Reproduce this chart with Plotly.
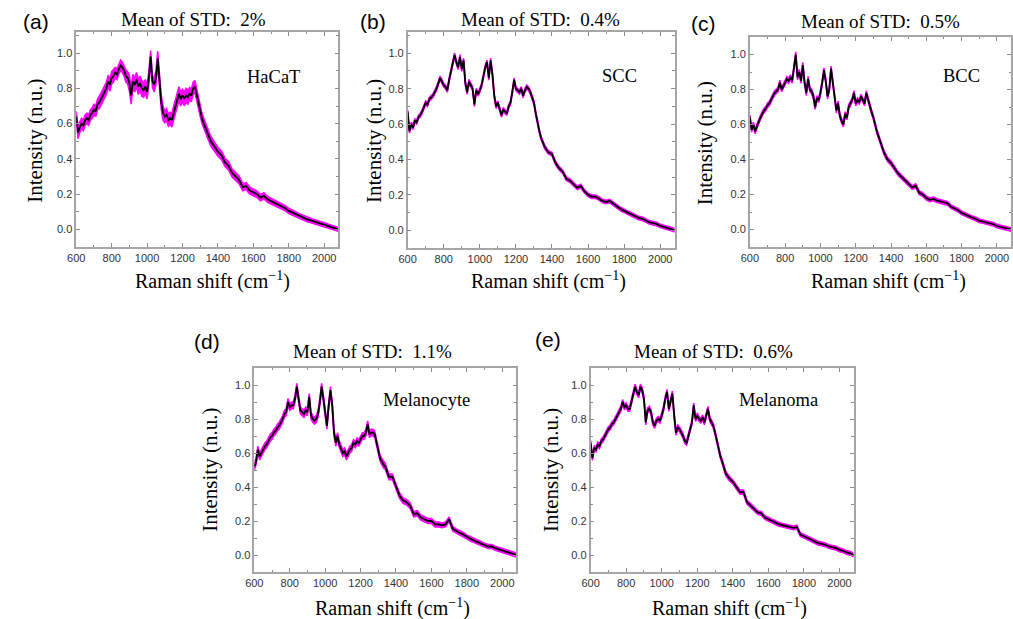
import plotly.graph_objects as go

W, H = 1013, 619

# Raman shift sampling (cm^-1): fine steps through the fingerprint region, coarser in the tail
WAVENUMBER = list(range(600, 1340, 10)) + list(range(1340, 2081, 20))

CELL_NAMES = ["HaCaT", "SCC", "BCC", "Melanocyte", "Melanoma"]
PANEL_TAGS = ["(a)", "(b)", "(c)", "(d)", "(e)"]
MEAN_STD_TEXT = ["2%", "0.4%", "0.5%", "1.1%", "0.6%"]

# Mean normalised spectra
HACAT_MEAN = [
    0.64, 0.55, 0.58, 0.60, 0.59, 0.62, 0.63, 0.62, 0.65, 0.66,
    0.68, 0.67, 0.71, 0.72, 0.74, 0.76, 0.78, 0.80, 0.84, 0.82,
    0.86, 0.87, 0.89, 0.88, 0.91, 0.93, 0.92, 0.90, 0.87, 0.86,
    0.83, 0.76, 0.84, 0.82, 0.85, 0.81, 0.83, 0.80, 0.79, 0.81,
    0.78, 0.86, 0.98, 0.84, 0.82, 0.86, 0.97, 0.84, 0.72, 0.66,
    0.64, 0.65, 0.62, 0.63, 0.62, 0.66, 0.70, 0.73, 0.77, 0.74,
    0.76, 0.74, 0.76, 0.75, 0.77, 0.76, 0.80, 0.81, 0.76, 0.71,
    0.67, 0.63, 0.60, 0.57,
    0.55, 0.50, 0.47, 0.44, 0.42, 0.38, 0.36, 0.32, 0.30, 0.28,
    0.24, 0.245, 0.22, 0.21, 0.20, 0.18, 0.19, 0.17, 0.16, 0.15,
    0.14, 0.13, 0.12, 0.105, 0.095, 0.085, 0.075, 0.068, 0.058, 0.052,
    0.045, 0.04, 0.033, 0.026, 0.02, 0.013, 0.007, 0.0,
]
SCC_MEAN = [
    0.67, 0.56, 0.60, 0.58, 0.62, 0.61, 0.64, 0.65, 0.67, 0.70,
    0.72, 0.71, 0.74, 0.75, 0.76, 0.78, 0.80, 0.83, 0.86, 0.84,
    0.82, 0.81, 0.79, 0.85, 0.90, 0.93, 0.99, 0.95, 0.92, 0.98,
    0.91, 0.96, 0.83, 0.78, 0.84, 0.82, 0.80, 0.71, 0.79, 0.77,
    0.79, 0.82, 0.88, 0.92, 0.95, 0.86, 0.96, 0.88, 0.76, 0.70,
    0.72, 0.68, 0.65, 0.68, 0.67, 0.66, 0.70, 0.72, 0.78, 0.85,
    0.80, 0.79, 0.78, 0.80, 0.76, 0.79, 0.81, 0.80, 0.78, 0.75,
    0.72, 0.66, 0.60, 0.56,
    0.52, 0.47, 0.44, 0.43, 0.38, 0.35, 0.33, 0.29, 0.28, 0.26,
    0.24, 0.25, 0.22, 0.20, 0.19, 0.19, 0.18, 0.165, 0.16, 0.165,
    0.15, 0.13, 0.12, 0.11, 0.10, 0.09, 0.08, 0.07, 0.065, 0.055,
    0.045, 0.04, 0.035, 0.025, 0.02, 0.012, 0.007, 0.0,
]
BCC_MEAN = [
    0.64, 0.57, 0.60, 0.56, 0.59, 0.62, 0.64, 0.66, 0.68, 0.69,
    0.71, 0.72, 0.74, 0.76, 0.78, 0.79, 0.80, 0.84, 0.80, 0.82,
    0.84, 0.86, 0.85, 0.87, 0.85, 0.92, 1.00, 0.87, 0.90, 0.85,
    0.94, 0.84, 0.78, 0.86, 0.80, 0.79, 0.76, 0.70, 0.75, 0.74,
    0.78, 0.84, 0.91, 0.85, 0.76, 0.80, 0.92, 0.84, 0.74, 0.68,
    0.72, 0.65, 0.62, 0.60, 0.66, 0.64, 0.70, 0.72, 0.74, 0.78,
    0.72, 0.74, 0.73, 0.76, 0.74, 0.72, 0.78, 0.74, 0.71, 0.67,
    0.64, 0.59, 0.56, 0.53,
    0.50, 0.44, 0.40, 0.38, 0.35, 0.32, 0.30, 0.28, 0.26, 0.24,
    0.25, 0.21, 0.20, 0.18, 0.17, 0.175, 0.165, 0.16, 0.155, 0.15,
    0.13, 0.12, 0.11, 0.095, 0.085, 0.075, 0.068, 0.06, 0.05, 0.045,
    0.04, 0.035, 0.03, 0.02, 0.015, 0.01, 0.005, 0.0,
]
MELANOCYTE_MEAN = [
    0.52, 0.55, 0.62, 0.58, 0.60, 0.62, 0.64, 0.65, 0.67, 0.69,
    0.70, 0.72, 0.73, 0.75, 0.76, 0.78, 0.80, 0.83, 0.84, 0.90,
    0.87, 0.88, 0.88, 0.92, 0.99, 0.92, 0.85, 0.84, 0.83, 0.85,
    0.84, 0.93, 0.82, 0.80, 0.79, 0.80, 0.83, 0.90, 0.99, 0.92,
    0.84, 0.76, 0.88, 0.97, 0.88, 0.72, 0.66, 0.70, 0.65, 0.62,
    0.60, 0.61, 0.58, 0.60, 0.62, 0.63, 0.66, 0.65, 0.67, 0.66,
    0.68, 0.70, 0.70, 0.72, 0.77, 0.71, 0.72, 0.72, 0.71, 0.66,
    0.62, 0.57, 0.55, 0.53,
    0.52, 0.46, 0.46, 0.40, 0.35, 0.32, 0.31, 0.29, 0.24, 0.245,
    0.22, 0.21, 0.20, 0.20, 0.18, 0.18, 0.175, 0.18, 0.21, 0.155,
    0.14, 0.13, 0.12, 0.105, 0.095, 0.085, 0.075, 0.065, 0.058, 0.05,
    0.05, 0.04, 0.033, 0.025, 0.018, 0.012, 0.006, 0.0,
]
MELANOMA_MEAN = [
    0.66, 0.57, 0.63, 0.62, 0.65, 0.64, 0.67, 0.68, 0.70, 0.72,
    0.74, 0.75, 0.77, 0.78, 0.80, 0.82, 0.84, 0.86, 0.90, 0.87,
    0.88, 0.86, 0.86, 0.90, 0.95, 0.99, 0.96, 0.94, 0.99, 0.97,
    0.92, 0.78, 0.85, 0.86, 0.84, 0.78, 0.76, 0.79, 0.80, 0.79,
    0.82, 0.86, 0.92, 0.96, 0.86, 0.90, 0.95, 0.82, 0.72, 0.75,
    0.74, 0.72, 0.70, 0.67, 0.66, 0.70, 0.74, 0.78, 0.88, 0.80,
    0.82, 0.80, 0.79, 0.81, 0.78, 0.82, 0.86, 0.80, 0.78, 0.76,
    0.72, 0.67, 0.62, 0.58,
    0.55, 0.48, 0.45, 0.43, 0.40, 0.37, 0.37, 0.31, 0.29, 0.27,
    0.25, 0.245, 0.22, 0.21, 0.20, 0.19, 0.18, 0.175, 0.17, 0.165,
    0.16, 0.165, 0.12, 0.11, 0.10, 0.09, 0.08, 0.07, 0.065, 0.06,
    0.05, 0.045, 0.04, 0.03, 0.025, 0.015, 0.01, 0.0,
]

# Standard deviation across repeated measurements
HACAT_STD = [
    0.030, 0.035, 0.030, 0.030, 0.030, 0.030, 0.030, 0.030, 0.030, 0.030,
    0.030, 0.030, 0.030, 0.035, 0.035, 0.035, 0.035, 0.035, 0.035, 0.035,
    0.035, 0.035, 0.030, 0.030, 0.030, 0.030, 0.030, 0.030, 0.035, 0.035,
    0.045, 0.050, 0.040, 0.040, 0.040, 0.045, 0.040, 0.045, 0.040, 0.040,
    0.040, 0.040, 0.035, 0.035, 0.040, 0.040, 0.040, 0.040, 0.040, 0.040,
    0.035, 0.035, 0.035, 0.035, 0.040, 0.040, 0.040, 0.040, 0.040, 0.040,
    0.035, 0.040, 0.040, 0.040, 0.035, 0.035, 0.035, 0.035, 0.035, 0.030,
    0.030, 0.030, 0.030, 0.030,
    0.028, 0.027, 0.026, 0.025, 0.025, 0.024, 0.024, 0.023, 0.022, 0.022,
    0.021, 0.020, 0.020, 0.019, 0.019, 0.018, 0.018, 0.017, 0.017, 0.016,
    0.016, 0.015, 0.015, 0.015, 0.014, 0.014, 0.014, 0.013, 0.013, 0.013,
    0.012, 0.012, 0.012, 0.012, 0.011, 0.011, 0.011, 0.011,
]
SCC_STD = [
    0.011, 0.011, 0.011, 0.011, 0.011, 0.011, 0.011, 0.011, 0.011, 0.011,
    0.011, 0.011, 0.011, 0.011, 0.011, 0.011, 0.011, 0.011, 0.011, 0.011,
    0.011, 0.011, 0.011, 0.011, 0.012, 0.012, 0.012, 0.012, 0.012, 0.012,
    0.012, 0.012, 0.012, 0.012, 0.012, 0.012, 0.012, 0.012, 0.012, 0.012,
    0.012, 0.012, 0.012, 0.012, 0.012, 0.012, 0.012, 0.012, 0.012, 0.012,
    0.011, 0.011, 0.011, 0.011, 0.011, 0.011, 0.011, 0.011, 0.011, 0.011,
    0.011, 0.011, 0.011, 0.011, 0.011, 0.011, 0.011, 0.011, 0.011, 0.011,
    0.011, 0.011, 0.011, 0.011,
    0.010, 0.010, 0.010, 0.010, 0.010, 0.010, 0.010, 0.010, 0.010, 0.010,
    0.010, 0.010, 0.010, 0.010, 0.010, 0.010, 0.010, 0.010, 0.010, 0.010,
    0.010, 0.010, 0.010, 0.010, 0.010, 0.010, 0.010, 0.010, 0.010, 0.010,
    0.010, 0.010, 0.010, 0.010, 0.010, 0.010, 0.010, 0.010,
]
BCC_STD = [
    0.013, 0.013, 0.013, 0.013, 0.013, 0.013, 0.013, 0.013, 0.013, 0.013,
    0.013, 0.013, 0.013, 0.013, 0.013, 0.013, 0.013, 0.013, 0.013, 0.013,
    0.014, 0.014, 0.014, 0.014, 0.014, 0.014, 0.015, 0.015, 0.015, 0.015,
    0.015, 0.015, 0.015, 0.015, 0.014, 0.014, 0.014, 0.014, 0.014, 0.014,
    0.014, 0.014, 0.014, 0.014, 0.014, 0.014, 0.014, 0.014, 0.014, 0.014,
    0.014, 0.014, 0.014, 0.014, 0.013, 0.013, 0.013, 0.013, 0.013, 0.013,
    0.013, 0.013, 0.013, 0.013, 0.013, 0.013, 0.013, 0.013, 0.013, 0.013,
    0.012, 0.012, 0.012, 0.012,
    0.012, 0.012, 0.012, 0.012, 0.012, 0.011, 0.011, 0.011, 0.011, 0.011,
    0.011, 0.011, 0.011, 0.011, 0.011, 0.011, 0.011, 0.011, 0.011, 0.011,
    0.010, 0.010, 0.010, 0.010, 0.010, 0.010, 0.010, 0.010, 0.010, 0.010,
    0.010, 0.010, 0.010, 0.010, 0.010, 0.010, 0.010, 0.010,
]
MELANOCYTE_STD = [
    0.020, 0.020, 0.020, 0.020, 0.020, 0.020, 0.020, 0.020, 0.020, 0.020,
    0.020, 0.020, 0.020, 0.020, 0.020, 0.020, 0.020, 0.020, 0.020, 0.020,
    0.020, 0.020, 0.020, 0.020, 0.020, 0.020, 0.020, 0.020, 0.020, 0.020,
    0.020, 0.020, 0.020, 0.020, 0.020, 0.020, 0.020, 0.020, 0.020, 0.020,
    0.020, 0.020, 0.020, 0.020, 0.020, 0.020, 0.020, 0.020, 0.020, 0.020,
    0.020, 0.020, 0.020, 0.020, 0.020, 0.020, 0.019, 0.019, 0.019, 0.019,
    0.019, 0.019, 0.019, 0.019, 0.019, 0.019, 0.019, 0.019, 0.018, 0.018,
    0.018, 0.018, 0.018, 0.018,
    0.017, 0.017, 0.017, 0.017, 0.017, 0.016, 0.016, 0.016, 0.016, 0.016,
    0.015, 0.015, 0.015, 0.015, 0.015, 0.014, 0.014, 0.014, 0.014, 0.014,
    0.013, 0.013, 0.013, 0.013, 0.013, 0.012, 0.012, 0.012, 0.012, 0.012,
    0.012, 0.012, 0.012, 0.012, 0.012, 0.012, 0.012, 0.012,
]
MELANOMA_STD = [
    0.014, 0.014, 0.014, 0.014, 0.014, 0.014, 0.014, 0.014, 0.014, 0.014,
    0.014, 0.014, 0.014, 0.014, 0.014, 0.014, 0.014, 0.014, 0.014, 0.014,
    0.015, 0.015, 0.015, 0.015, 0.015, 0.015, 0.015, 0.015, 0.015, 0.015,
    0.015, 0.015, 0.015, 0.015, 0.015, 0.015, 0.015, 0.015, 0.015, 0.015,
    0.015, 0.015, 0.015, 0.015, 0.015, 0.015, 0.015, 0.015, 0.015, 0.015,
    0.014, 0.014, 0.014, 0.014, 0.014, 0.014, 0.014, 0.014, 0.014, 0.014,
    0.014, 0.014, 0.014, 0.014, 0.014, 0.014, 0.014, 0.014, 0.014, 0.014,
    0.013, 0.013, 0.013, 0.013,
    0.013, 0.013, 0.013, 0.012, 0.012, 0.012, 0.012, 0.012, 0.012, 0.012,
    0.011, 0.011, 0.011, 0.011, 0.011, 0.011, 0.011, 0.011, 0.011, 0.011,
    0.011, 0.011, 0.011, 0.011, 0.011, 0.011, 0.011, 0.011, 0.011, 0.011,
    0.011, 0.011, 0.011, 0.011, 0.011, 0.011, 0.011, 0.011,
]

MEANS = [HACAT_MEAN, SCC_MEAN, BCC_MEAN, MELANOCYTE_MEAN, MELANOMA_MEAN]
STDS = [HACAT_STD, SCC_STD, BCC_STD, MELANOCYTE_STD, MELANOMA_STD]

# Panel frames in pixels: left, right, top, bottom, y-range top
FRAMES = [
    (68, 333, 32, 247, 1.12),
    (403, 673, 32, 248, 1.12),
    (749, 1013, 37, 247, 1.10),
    (248, 513, 368, 572, 1.10),
    (588, 854, 368, 572, 1.10),
]
# Text centre positions in pixels
TAG_POS = [(27, 21), (368, 21), (702, 23), (200, 341), (545, 340)]
TITLE_POS = [(187, 20), (537, 20), (881, 21), (367, 351), (712, 351)]
NAME_POS = [(267, 77), (617, 76), (963, 76), (422, 400), (778, 400)]
YTITLE_POS = [(26, 141), (369, 141), (704, 143), (203, 470), (548, 470)]
XTITLE_POS = [(206, 280), (545, 280), (889, 280), (388, 607), (728, 607)]

SERIF = "Liberation Serif, Times New Roman, serif"
SANS = "Liberation Sans, Arial, sans-serif"


def px(x):
    return x / W


def py(y):
    return 1 - y / H


def label(text, pos, size, family, angle=0):
    return dict(
        text=text, x=px(pos[0]), y=py(pos[1]), xref="paper", yref="paper",
        xanchor="center", yanchor="middle", showarrow=False, textangle=angle,
        font=dict(family=family, size=size, color="#000"),
    )


fig = go.Figure()
annotations = []
layout_axes = {}

for i in range(5):
    n = "" if i == 0 else str(i + 1)
    xa, ya = "x" + n, "y" + n
    left, right, top, bottom, ytop = FRAMES[i]
    mean, std = MEANS[i], STDS[i]
    upper = [m + s for m, s in zip(mean, std)]
    lower = [m - s for m, s in zip(mean, std)]

    fig.add_trace(go.Scatter(
        x=WAVENUMBER, y=upper, xaxis=xa, yaxis=ya, mode="lines",
        line=dict(color="#ff00ff", width=1.5), showlegend=False, hoverinfo="skip",
    ))
    fig.add_trace(go.Scatter(
        x=WAVENUMBER, y=lower, xaxis=xa, yaxis=ya, mode="lines",
        line=dict(color="#ff00ff", width=1.5), fill="tonexty",
        fillcolor="#ff00ff", showlegend=False, hoverinfo="skip",
    ))
    fig.add_trace(go.Scatter(
        x=WAVENUMBER, y=mean, xaxis=xa, yaxis=ya, mode="lines",
        line=dict(color="#000000", width=1.8), showlegend=False,
        name=CELL_NAMES[i],
    ))

    common = dict(
        showline=True, linecolor="#a6a6a6", linewidth=1.5, mirror="allticks",
        ticks="inside", ticklen=4, tickwidth=1, tickcolor="#8c8c8c",
        showgrid=False, zeroline=False,
        tickfont=dict(family=SANS, size=11, color="#333333"),
    )
    layout_axes["xaxis" + n] = dict(
        common, domain=[px(left), px(right)], range=[600, 2080],
        anchor=ya, tick0=600, dtick=200,
        minor=dict(ticks="inside", ticklen=2.5, dtick=100, tick0=600,
                   tickcolor="#8c8c8c"),
    )
    layout_axes["yaxis" + n] = dict(
        common, domain=[py(bottom), py(top)], range=[-0.1, ytop],
        anchor=xa, tick0=0, dtick=0.2, tickformat=".1f",
        minor=dict(ticks="inside", ticklen=2.5, dtick=0.1, tick0=0,
                   tickcolor="#8c8c8c"),
    )

    annotations.append(label(PANEL_TAGS[i], TAG_POS[i], 21, SANS))
    annotations.append(label("Mean of STD:  " + MEAN_STD_TEXT[i], TITLE_POS[i], 19, SERIF))
    annotations.append(label(CELL_NAMES[i], NAME_POS[i], 18.5, SERIF))
    annotations.append(label("Intensity (n.u.)", YTITLE_POS[i], 21, SERIF, angle=-90))
    annotations.append(label("Raman shift (cm<sup>\u22121</sup>)", XTITLE_POS[i], 20, SERIF))

fig.update_layout(
    width=W, height=H,
    margin=dict(l=0, r=0, t=0, b=0),
    paper_bgcolor="white", plot_bgcolor="white",
    annotations=annotations,
    **layout_axes,
)

fig.write_html("out.html")
